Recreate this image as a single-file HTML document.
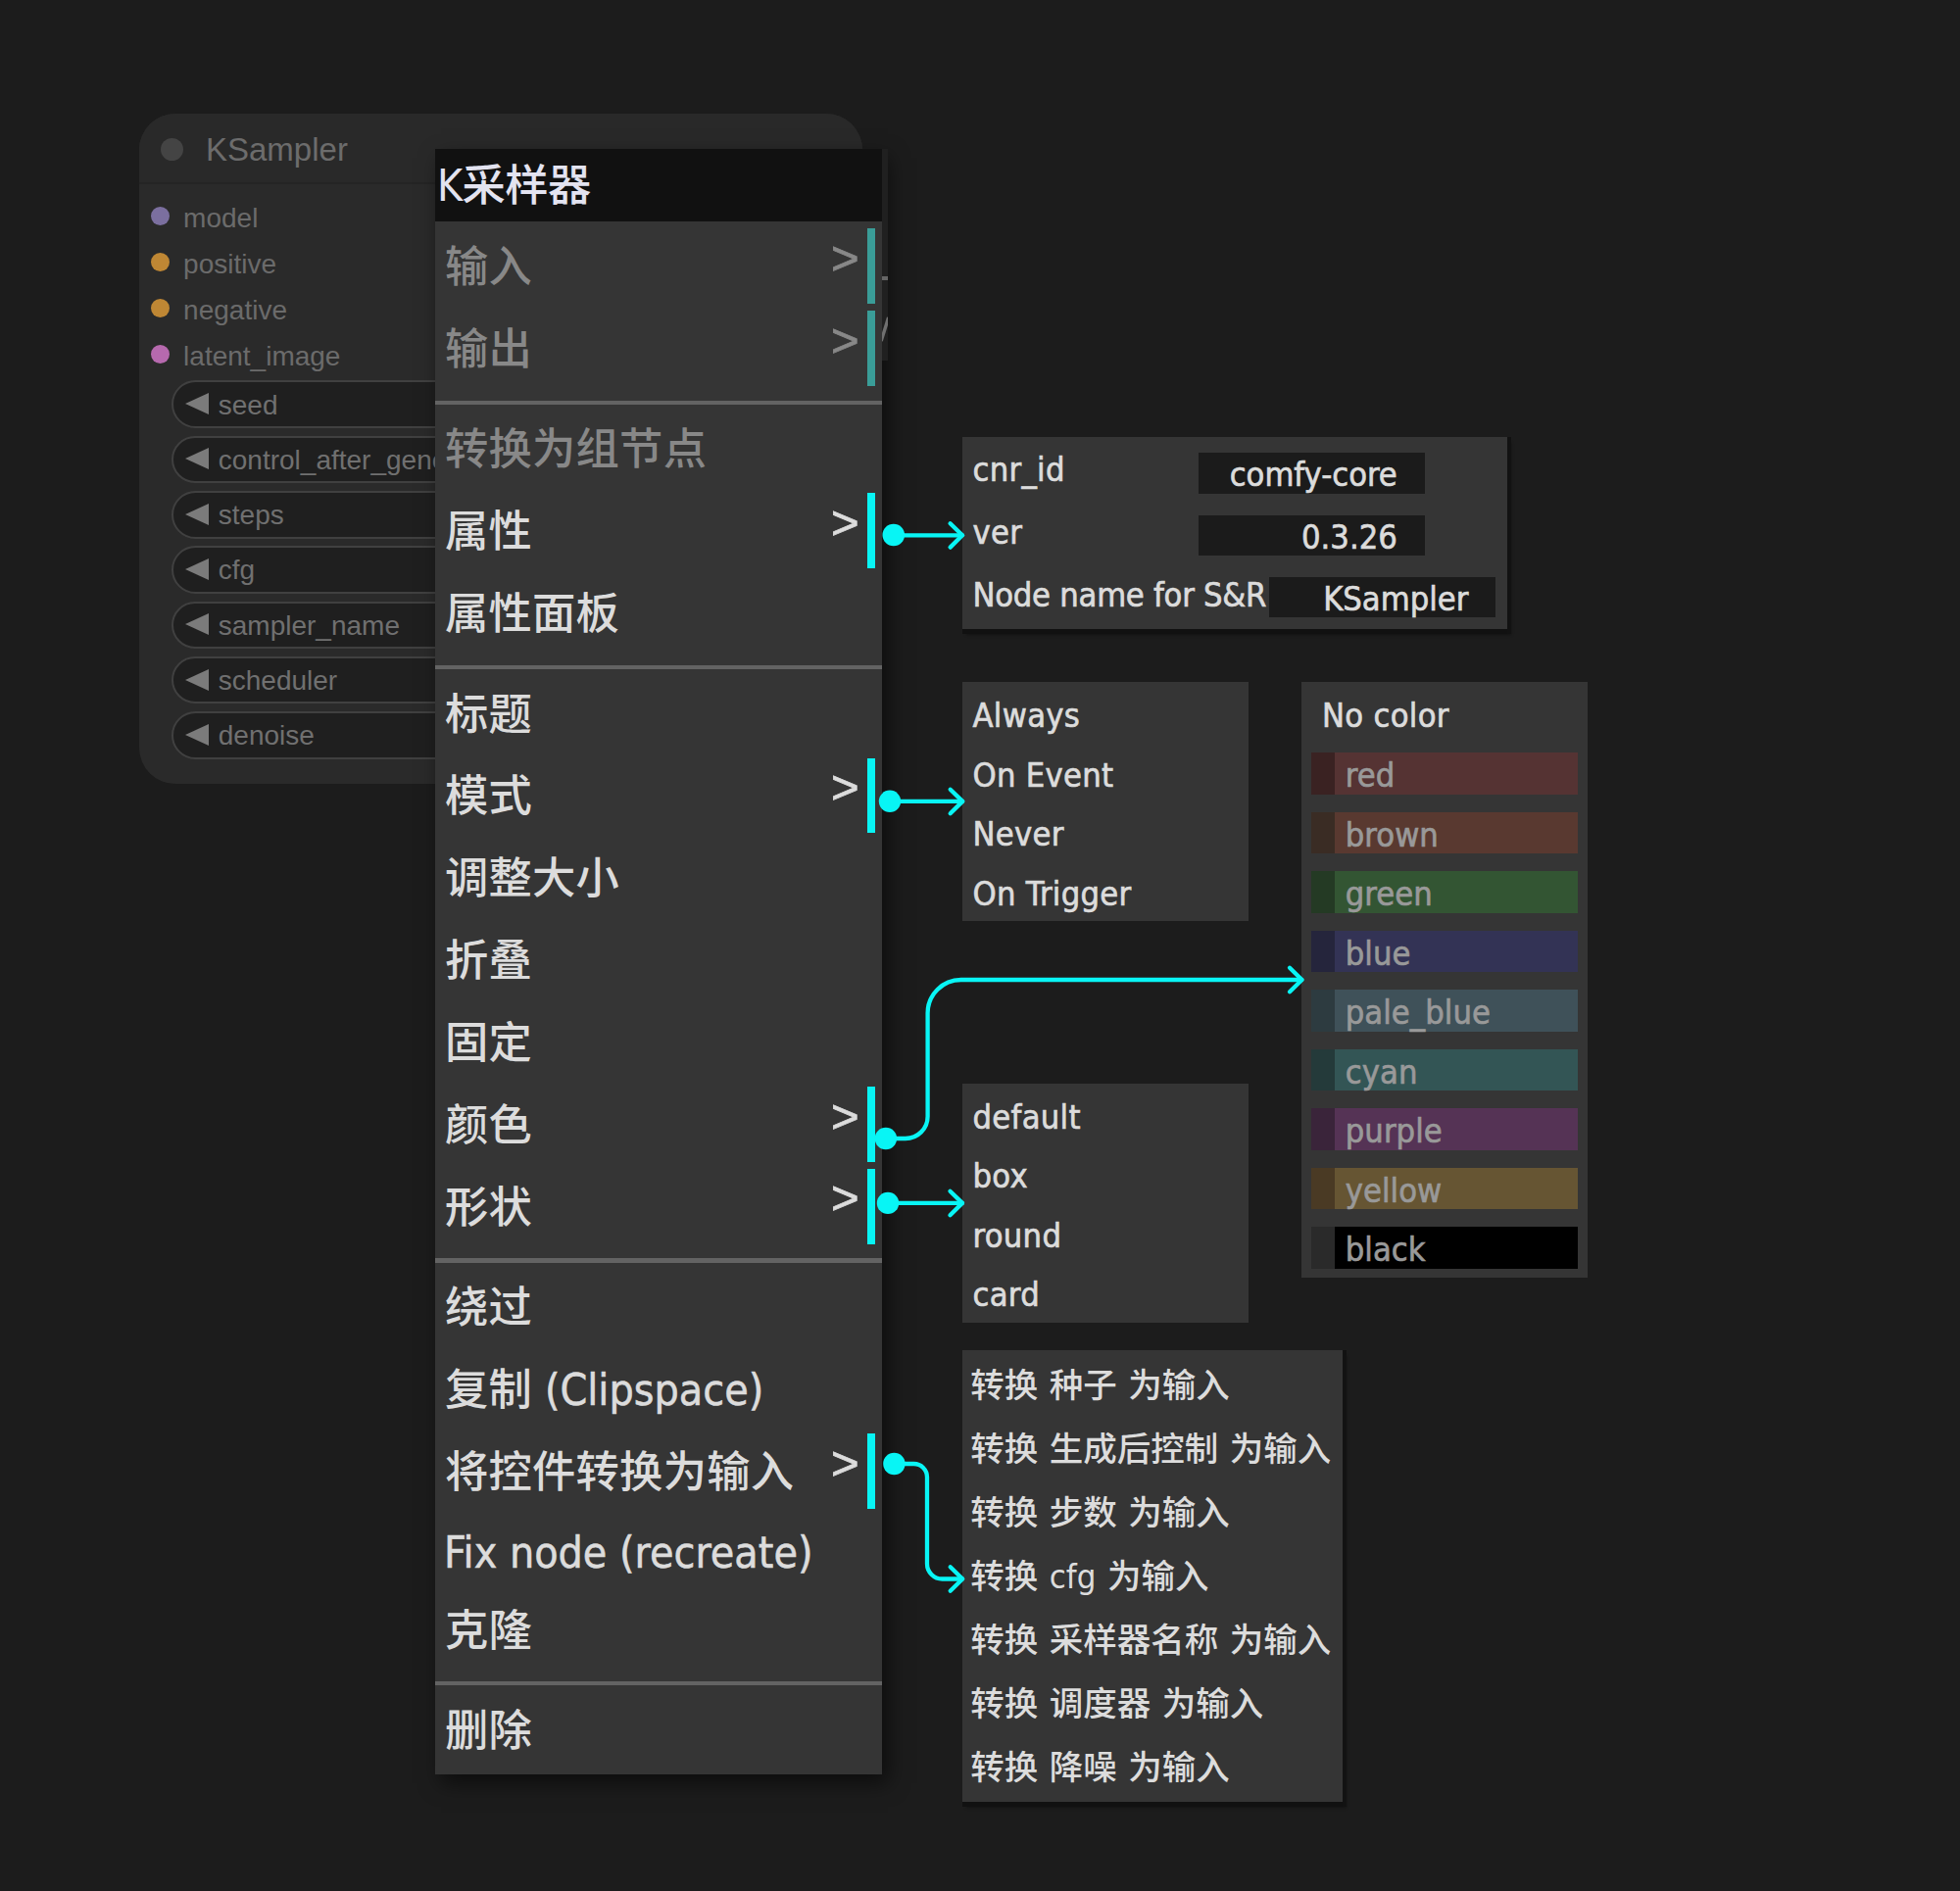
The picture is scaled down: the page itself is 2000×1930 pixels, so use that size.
<!DOCTYPE html>
<html lang="zh-CN">
<head>
<meta charset="utf-8">
<title>KSampler context menu</title>
<style>
html,body{margin:0;padding:0}
body{width:2000px;height:1930px;background:#1c1c1c;position:relative;overflow:hidden;
  font-family:"Liberation Sans","Noto Sans CJK SC",sans-serif;}
.abs{position:absolute}

/* ---------- graph node ---------- */
.node{position:absolute;left:142px;top:116px;width:738px;height:684px;border-radius:37px;background:#2a2a2a;overflow:hidden}
.node .tbar{position:absolute;left:0;top:0;width:100%;height:70px;background:#292929;border-bottom:2px solid #242424}
.node .tdot{position:absolute;left:22px;top:24.5px;width:23px;height:23px;border-radius:50%;background:#444}
.node .ttl{position:absolute;left:68px;top:17.2px;font-size:33px;line-height:40px;color:#6c6c6c;white-space:nowrap}
.slot{position:absolute;left:12.2px;width:19px;height:19px;border-radius:50%}
.slab{position:absolute;left:45.1px;margin-top:.9px;font-size:28px;line-height:34px;color:#6b6b6b;white-space:nowrap}
.wid{position:absolute;left:33.2px;width:700px;height:44.6px;border:2px solid #404040;border-radius:25px;background:#1f1f1f;box-sizing:content-box}
.wid i{position:absolute;left:12.2px;top:10.8px;width:0;height:0;border-top:11.5px solid transparent;border-bottom:11.5px solid transparent;border-right:24.3px solid #7b7b7b}
.wid span{position:absolute;left:45.6px;top:6.2px;font-size:28px;line-height:34px;color:#707070;white-space:nowrap}

/* ---------- main context menu ---------- */
.menu{position:absolute;left:444px;top:152px;width:456.2px;background:#353535;box-shadow:6px 9px 20px rgba(0,0,0,.55);
  font-size:44.3px;color:#dcdcdc;font-weight:500;padding-bottom:7.3px;
  font-family:"DejaVu Sans Condensed","Liberation Sans","Noto Sans CJK SC",sans-serif}
.menu .title{height:59.3px;line-height:59.3px;padding:7.4px 2px;background:#111;color:#e3e3f0;white-space:nowrap;letter-spacing:-.6px}
.menu .title span{position:relative;top:1px}
.menu .e{position:relative;height:61.8px;line-height:61.8px;margin:7.3px 7.1px 0 7.3px;padding:7.4px 0 7.4px 2.6px;white-space:nowrap}
.menu .e.lat{height:55.7px;line-height:55.7px}
.menu .e.lat span{left:-1px;top:2.3px;letter-spacing:.1px}
.menu .e span{position:relative;top:1.5px;letter-spacing:.25px}
.menu u{text-decoration:none;-webkit-text-stroke-width:.55px;letter-spacing:0}
.menu .e.dis{color:#888}
.menu .e.sub::before{content:"";position:absolute;right:.3px;top:0;bottom:0;width:8.2px;background:#08f5f5}
.menu .e.dis.sub::before{background:#3a9d98}
.menu .e b{position:absolute;right:16.5px;top:-.5px;font-size:49px;font-weight:400;font-family:"Liberation Sans",sans-serif;-webkit-text-stroke-width:.8px}
.menu .sep{height:4.2px;margin:14.9px 0 0 0;background:#636363}
.menu .sep + .e{margin-top:6.7px}

/* ---------- sub menus ---------- */
.sm{position:absolute;background:#353535;font-size:34.2px;color:#dcdcdc;
  font-family:"DejaVu Sans Condensed","Liberation Sans","Noto Sans CJK SC",sans-serif}
.sm .r{position:absolute;left:10.5px;white-space:nowrap;line-height:44px;height:44px}
.sm.cj{font-weight:500;font-size:34.5px;word-spacing:1.6px}
.sm.sh{box-shadow:4px 0 0 #121212,0 5px 0 #111,4px 5px 0 #121212,4px 6px 3px rgba(0,0,0,.35)}
.sm.lt{-webkit-text-stroke-width:.65px;letter-spacing:.3px}
.pv{position:absolute;height:41.3px;width:231px;background:#1b1b1b;box-sizing:border-box;padding-right:28px;text-align:right;line-height:45.6px;white-space:nowrap;letter-spacing:0}
.cb{position:absolute;left:10.4px;width:247.4px;height:42.7px;border-left:24px solid #000;box-sizing:content-box;color:#999;line-height:46.4px;white-space:nowrap;text-indent:10.4px;letter-spacing:.05px}
</style>
</head>
<body>

<!-- graph node behind the menu -->
<div class="node">
  <div class="tbar"></div>
  <div class="tdot"></div>
  <div class="ttl">KSampler</div>

  <div class="slot" style="top:95px;background:#7b6f9f"></div><div class="slab" style="top:89px">model</div>
  <div class="slot" style="top:141.9px;background:#bf8734"></div><div class="slab" style="top:135.9px">positive</div>
  <div class="slot" style="top:188.8px;background:#bf8734"></div><div class="slab" style="top:182.8px">negative</div>
  <div class="slot" style="top:235.7px;background:#b669ae"></div><div class="slab" style="top:229.7px">latent_image</div>

  <div class="wid" style="top:272.4px"><i></i><span>seed</span></div>
  <div class="wid" style="top:328.7px"><i></i><span>control_after_generate</span></div>
  <div class="wid" style="top:385px"><i></i><span>steps</span></div>
  <div class="wid" style="top:441.3px"><i></i><span>cfg</span></div>
  <div class="wid" style="top:497.6px"><i></i><span>sampler_name</span></div>
  <div class="wid" style="top:553.9px"><i></i><span>scheduler</span></div>
  <div class="wid" style="top:610.2px"><i></i><span>denoise</span></div>
</div>

<!-- main menu -->
<div class="menu">
  <div class="title"><span>K采样器</span></div>
  <div class="e sub dis"><span>输入</span><b>&gt;</b></div>
  <div class="e sub dis"><span>输出</span><b>&gt;</b></div>
  <div class="sep"></div>
  <div class="e dis"><span>转换为组节点</span></div>
  <div class="e sub"><span>属性</span><b>&gt;</b></div>
  <div class="e"><span>属性面板</span></div>
  <div class="sep"></div>
  <div class="e"><span>标题</span></div>
  <div class="e sub"><span>模式</span><b>&gt;</b></div>
  <div class="e"><span>调整大小</span></div>
  <div class="e"><span>折叠</span></div>
  <div class="e"><span>固定</span></div>
  <div class="e sub"><span>颜色</span><b>&gt;</b></div>
  <div class="e sub"><span>形状</span><b>&gt;</b></div>
  <div class="sep"></div>
  <div class="e"><span>绕过</span></div>
  <div class="e"><span>复制 <u>(Clipspace)</u></span></div>
  <div class="e sub"><span>将控件转换为输入</span><b>&gt;</b></div>
  <div class="e lat"><span><u>Fix node (recreate)</u></span></div>
  <div class="e"><span>克隆</span></div>
  <div class="sep"></div>
  <div class="e"><span>删除</span></div>
</div>

<!-- sliver of canvas element peeking out right of the menu -->
<div class="abs" style="left:900.2px;top:152px;width:5.8px;height:216px;background:#202020"></div>
<div class="abs" style="left:900.2px;top:282.3px;width:5.8px;height:3.7px;background:#666"></div>
<svg class="abs" style="left:900.2px;top:320px" width="5.8" height="34" viewBox="0 0 5.8 34"><path d="M6.6 4L-.8 28" stroke="#707070" stroke-width="3.4" fill="none"/></svg>

<!-- properties submenu -->
<div class="sm lt sh" style="left:982px;top:446px;width:555.5px;height:196px">
  <div class="r" style="top:11.3px">cnr_id</div>
  <div class="pv" style="left:240.8px;top:16.3px">comfy-core</div>
  <div class="r" style="top:74.9px">ver</div>
  <div class="pv" style="left:240.8px;top:79.8px">0.3.26</div>
  <div class="r" style="top:138.8px;letter-spacing:-.25px">Node name for S&amp;R</div>
  <div class="pv" style="left:313.3px;top:143px">KSampler</div>
</div>

<!-- mode submenu -->
<div class="sm lt" style="left:982px;top:696px;width:292px;height:243.6px">
  <div class="r" style="top:12px">Always</div>
  <div class="r" style="top:72.5px">On Event</div>
  <div class="r" style="top:133.1px">Never</div>
  <div class="r" style="top:193.5px">On Trigger</div>
</div>

<!-- colour submenu -->
<div class="sm lt" style="left:1328px;top:696px;width:292px;height:607.8px">
  <div class="r" style="top:12.3px;left:21px">No color</div>
  <div class="cb" style="top:72px;background:#553333;border-left-color:#3a2222">red</div>
  <div class="cb" style="top:132.5px;background:#593930;border-left-color:#3a2c24">brown</div>
  <div class="cb" style="top:193px;background:#335533;border-left-color:#243a24">green</div>
  <div class="cb" style="top:253.5px;background:#333355;border-left-color:#25253c">blue</div>
  <div class="cb" style="top:314px;background:#3f5159;border-left-color:#2d3b40">pale_blue</div>
  <div class="cb" style="top:374.5px;background:#335555;border-left-color:#243a3a">cyan</div>
  <div class="cb" style="top:435px;background:#553355;border-left-color:#3a243a">purple</div>
  <div class="cb" style="top:495.5px;background:#665533;border-left-color:#4a3a24">yellow</div>
  <div class="cb" style="top:556px;background:#000000;border-left-color:#2a2a2a">black</div>
</div>

<!-- shape submenu -->
<div class="sm lt" style="left:982px;top:1106.2px;width:292.3px;height:243.8px">
  <div class="r" style="top:12.1px">default</div>
  <div class="r" style="top:72.2px">box</div>
  <div class="r" style="top:132.4px">round</div>
  <div class="r" style="top:192.9px">card</div>
</div>

<!-- convert-widget submenu -->
<div class="sm cj sh" style="left:982px;top:1378px;width:388px;height:461px">
  <div class="r" style="top:14px;left:8.3px">转换 种子 为输入</div>
  <div class="r" style="top:79px;left:8.3px">转换 生成后控制 为输入</div>
  <div class="r" style="top:144px;left:8.3px">转换 步数 为输入</div>
  <div class="r" style="top:209px;left:8.3px">转换 cfg 为输入</div>
  <div class="r" style="top:274px;left:8.3px">转换 采样器名称 为输入</div>
  <div class="r" style="top:339px;left:8.3px">转换 调度器 为输入</div>
  <div class="r" style="top:404px;left:8.3px">转换 降噪 为输入</div>
</div>

<!-- cyan connectors -->
<svg class="abs" style="left:0;top:0" width="2000" height="1930" viewBox="0 0 2000 1930" fill="none" stroke="#08f5f5" stroke-width="4.3" stroke-linecap="round" stroke-linejoin="round">
  <!-- properties -->
  <circle cx="911.8" cy="546" r="11.3" fill="#08f5f5" stroke="none"/>
  <path d="M912 546.3H982"/><path d="M969.6 534.2L982 546.3L969.6 558.6"/>
  <!-- mode -->
  <circle cx="908" cy="817.8" r="11.2" fill="#08f5f5" stroke="none"/>
  <path d="M908 817.9H982.2"/><path d="M969.7 805.7L982.2 817.9L969.7 830.3"/>
  <!-- colour -->
  <circle cx="903.9" cy="1162" r="11.2" fill="#08f5f5" stroke="none"/>
  <path d="M904 1162H924A22.6 22.6 0 0 0 946.6 1139.4V1034A34 34 0 0 1 980.6 1000H1328.4"/><path d="M1316 987.8L1328.5 1000L1316 1012.3"/>
  <!-- shape -->
  <circle cx="906" cy="1227.9" r="11.2" fill="#08f5f5" stroke="none"/>
  <path d="M906 1227.9H982"/><path d="M969.5 1215.7L982 1227.9L969.5 1240.2"/>
  <!-- convert -->
  <circle cx="912.4" cy="1494" r="11.2" fill="#08f5f5" stroke="none"/>
  <path d="M912 1494H932.5A13.5 13.5 0 0 1 946 1507.5V1596A15.5 15.5 0 0 0 961.5 1611.5H982"/><path d="M969.7 1599.2L982.2 1611.5L969.7 1623.8"/>
</svg>

</body>
</html>
